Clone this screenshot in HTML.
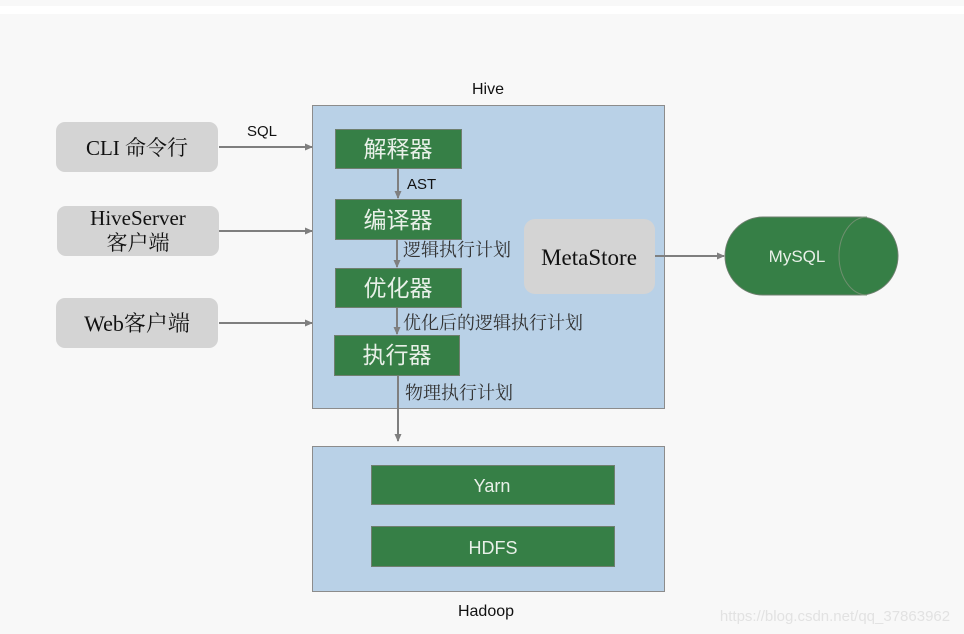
<!DOCTYPE html>
<html><head><meta charset="utf-8"><style>
html,body{margin:0;padding:0;background:#f8f8f8;}
svg{display:block;}
.s{font-family:"Liberation Sans","Noto Sans CJK SC",sans-serif;}
.r{font-family:"Liberation Serif","Noto Serif CJK SC",serif;}
</style></head><body>
<svg width="964" height="634" viewBox="0 0 964 634" xmlns="http://www.w3.org/2000/svg">
<defs><marker id="a" markerWidth="8" markerHeight="8" refX="7" refY="4" orient="auto" markerUnits="userSpaceOnUse"><path d="M0,0.5 L8,4 L0,7.5 z" fill="#7f7f7f"/></marker></defs>
<rect x="0" y="0" width="964" height="634" fill="#f8f8f8"/>
<rect x="0" y="6" width="964" height="8" fill="#ffffff"/>
<rect x="312.5" y="105.5" width="352" height="303" fill="#b9d1e7" stroke="#8c8c8c"/>
<text x="488" y="94" class="s" font-size="16" text-anchor="middle" fill="#111">Hive</text>
<rect x="56" y="122" width="162" height="50" rx="9" fill="#d4d4d4"/>
<text x="137" y="155" class="r" font-size="21" text-anchor="middle" fill="#111">CLI 命令行</text>
<rect x="57" y="206" width="162" height="50" rx="9" fill="#d4d4d4"/>
<text x="138" y="225" class="r" font-size="21" text-anchor="middle" fill="#111">HiveServer</text>
<text x="138" y="250" class="r" font-size="21" text-anchor="middle" fill="#111">客户端</text>
<rect x="56" y="298" width="162" height="50" rx="9" fill="#d4d4d4"/>
<text x="137" y="331" class="r" font-size="22" text-anchor="middle" fill="#111">Web客户端</text>
<g stroke="#7f7f7f" stroke-width="2" fill="none" marker-end="url(#a)">
<line x1="219" y1="147" x2="312" y2="147"/>
<line x1="219" y1="231" x2="312" y2="231"/>
<line x1="219" y1="323" x2="312" y2="323"/>
<line x1="398" y1="169" x2="398" y2="198"/>
<line x1="397" y1="240" x2="397" y2="267"/>
<line x1="397" y1="308" x2="397" y2="334"/>
<line x1="398" y1="376" x2="398" y2="441"/>
<line x1="655" y1="256" x2="724" y2="256"/>
</g>
<text x="262" y="136" class="s" font-size="15" text-anchor="middle" fill="#111">SQL</text>
<g fill="#367f46" stroke="#6f7f6f">
<rect x="335.5" y="129.5" width="126" height="39"/>
<rect x="335.5" y="199.5" width="126" height="40"/>
<rect x="335.5" y="268.5" width="126" height="39"/>
<rect x="334.5" y="335.5" width="125" height="40"/>
</g>
<g class="s" font-size="23" fill="#e8f0e8" text-anchor="middle">
<text x="398" y="157">解释器</text>
<text x="398" y="228">编译器</text>
<text x="398" y="296">优化器</text>
<text x="397" y="363">执行器</text>
</g>
<text x="407" y="189" class="s" font-size="15" fill="#111">AST</text>
<g class="r" font-size="18" fill="#333">
<text x="403" y="256">逻辑执行计划</text>
<text x="403" y="329">优化后的逻辑执行计划</text>
<text x="405" y="399">物理执行计划</text>
</g>
<rect x="524" y="219" width="131" height="75" rx="11" fill="#d4d4d4"/>
<text x="589" y="265" class="r" font-size="23" text-anchor="middle" fill="#111">MetaStore</text>
<path d="M763,217 L860,217 A38,39 0 0 1 860,295 L763,295 A38,39 0 0 1 763,217 z" fill="#367f46" stroke="#6f7f6f"/>
<path d="M867,217 A28,39 0 0 0 867,295" fill="none" stroke="#6f8f6f"/>
<text x="797" y="262" class="s" font-size="17" text-anchor="middle" fill="#e8f0e8">MySQL</text>
<rect x="312.5" y="446.5" width="352" height="145" fill="#b9d1e7" stroke="#8c8c8c"/>
<rect x="371.5" y="465.5" width="243" height="39" fill="#367f46" stroke="#6f7f6f"/>
<rect x="371.5" y="526.5" width="243" height="40" fill="#367f46" stroke="#6f7f6f"/>
<text x="492" y="492" class="s" font-size="18" text-anchor="middle" fill="#e8f0e8">Yarn</text>
<text x="493" y="554" class="s" font-size="18" text-anchor="middle" fill="#e8f0e8">HDFS</text>
<text x="486" y="616" class="s" font-size="16" text-anchor="middle" fill="#111">Hadoop</text>
<text x="835" y="621" class="s" font-size="15" text-anchor="middle" fill="#e2e2e2">https://blog.csdn.net/qq_37863962</text>
</svg>
</body></html>
